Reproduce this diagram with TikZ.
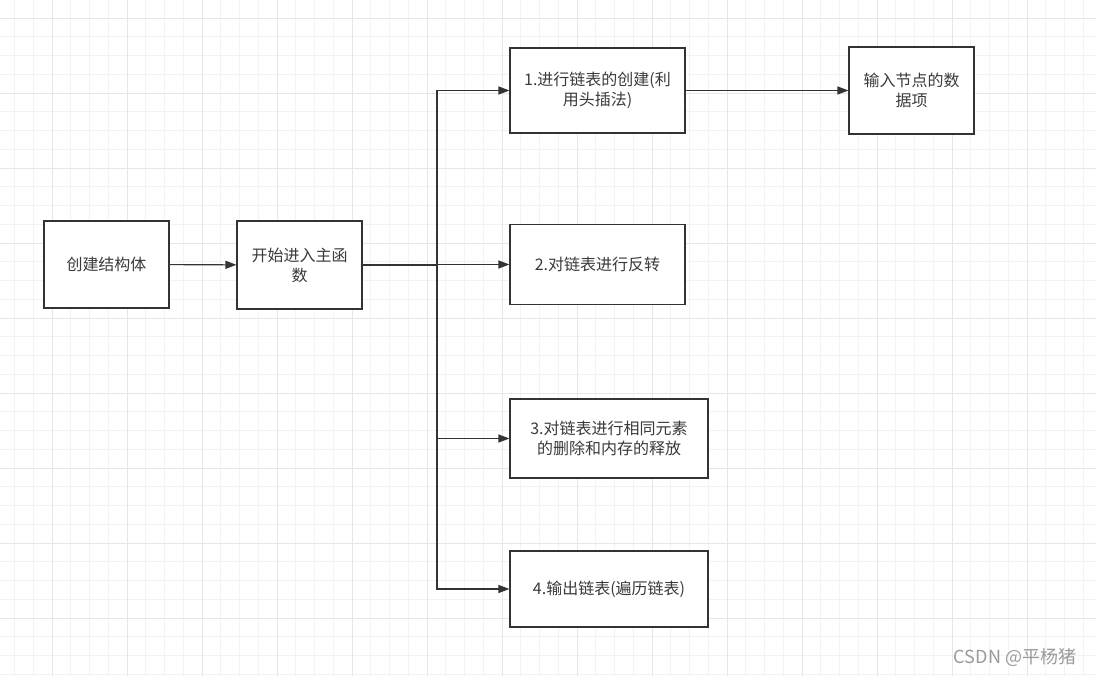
\documentclass[tikz,border=0pt]{standalone}
\usepackage{fontspec}
\newfontfamily\cjk{Noto Sans CJK SC}
\usetikzlibrary{arrows.meta}
\definecolor{FlowStroke}{HTML}{333333}
\definecolor{FlowText}{HTML}{3A3A3A}
\definecolor{GridMinor}{HTML}{F3F3F3}
\definecolor{GridMajor}{HTML}{E6E6E6}
\definecolor{MarkText}{HTML}{9A9A9A}

\begin{document}
\begin{tikzpicture}[x=1pt,y=-1pt,
  stepbox/.style={draw=FlowStroke,line width=1.1pt,fill=white,align=center,text=FlowText,inner sep=0pt,
    font=\cjk\fontsize{16}{20}\selectfont},
  flow/.style={draw=FlowStroke,line width=1.1pt,-{Triangle[length=11pt,width=8pt]}},
  gridline/.style={line width=0.8pt}]
  \useasboundingbox[fill=white] (0,0) rectangle (1096,676);

  % background grid
  \foreach \gx in {0,...,57} {\draw[gridline,GridMinor] ({14.5+18.75*\gx},0) -- ++(0,676);}
  \foreach \gy in {0,...,35} {\draw[gridline,GridMinor] (0,{18+18.75*\gy}) -- ++(1096,0);}
  \foreach \gx in {0,...,13} {\draw[gridline,GridMajor] ({52+75*\gx},0) -- ++(0,676);}
  \foreach \gy in {0,...,8} {\draw[gridline,GridMajor] (0,{18+75*\gy}) -- ++(1096,0);}

  % boxes
  \node[stepbox,minimum width=125pt,minimum height=87pt] (struct) at (106.5,264.5) {创建结构体};
  \node[stepbox,minimum width=125pt,minimum height=88pt] (mainfn) at (299.5,265) {开始进入主函\\数};
  \node[stepbox,minimum width=175pt,minimum height=85pt] (create) at (597.5,90.5) {1.进行链表的创建(利\\用头插法)};
  \node[stepbox,minimum width=125pt,minimum height=87pt] (input) at (911.5,90.5) {输入节点的数\\据项};
  \node[stepbox,minimum width=175pt,minimum height=80pt] (reverse) at (597.5,264.5) {2.对链表进行反转};
  \node[stepbox,minimum width=198pt,minimum height=79pt] (delete) at (609,438.5) {3.对链表进行相同元素\\的删除和内存的释放};
  \node[stepbox,minimum width=198pt,minimum height=76pt] (output) at (609,589) {4.输出链表(遍历链表)};

  % connectors
  \coordinate (split) at (437,265);
  \draw[flow] (struct) -- (mainfn);
  \draw[flow] (mainfn.east) -- (split) |- (create.west);
  \draw[flow] (mainfn.east) -- (split) |- (reverse.west);
  \draw[flow] (mainfn.east) -- (split) |- (delete.west);
  \draw[flow] (mainfn.east) -- (split) |- (output.west);
  \draw[flow] (create) -- (input);

  \node[text=MarkText,font=\cjk\fontsize{18}{20}\selectfont] (mark) at (1015,657) {CSDN @平杨猪};
\end{tikzpicture}
\end{document}
